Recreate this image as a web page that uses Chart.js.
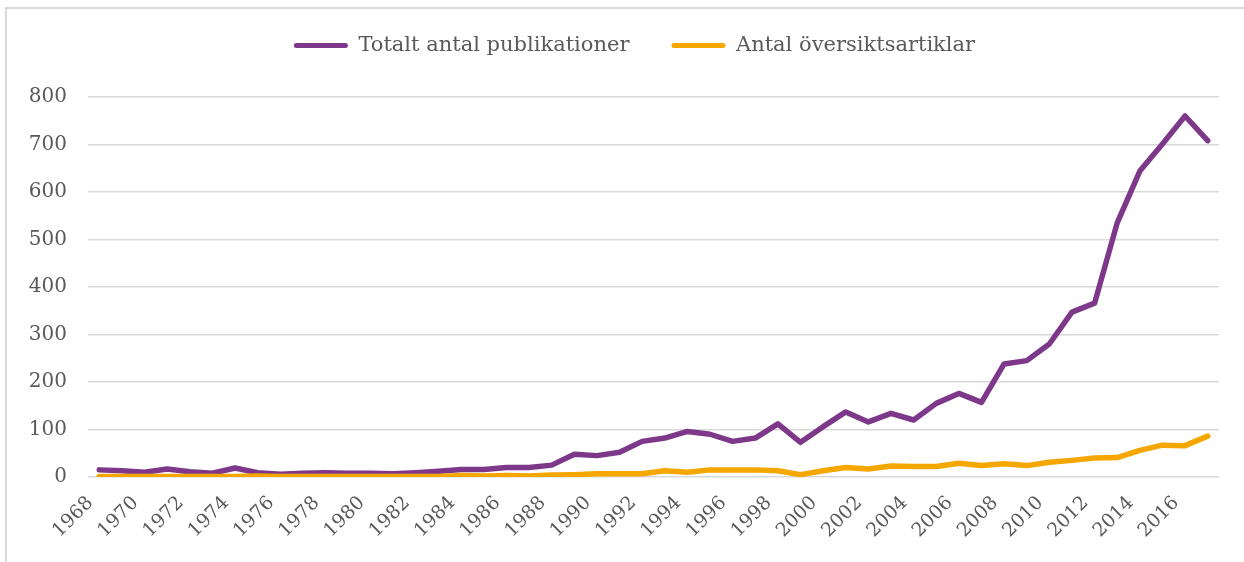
<!DOCTYPE html>
<html>
<head>
<meta charset="utf-8">
<script src="https://cdn.jsdelivr.net/npm/chart.js@4"></script>
<style>
  html, body { margin: 0; padding: 0; background: #ffffff; }
  #frame { position: absolute; left: 5px; top: 7px; width: 1239px; height: 555px;
           border-left: 2px solid #d9d9d9; border-top: 2px solid #d9d9d9; box-sizing: border-box; }
  #wrap { position: absolute; left: 0; top: 0; width: 1244px; height: 562px; }
</style>
</head>
<body>
<div id="frame"></div>
<div id="wrap"><canvas id="c" width="1244" height="562"></canvas></div>
<script>
const years = ['1968','1969','1970','1971','1972','1973','1974','1975','1976','1977',
  '1978','1979','1980','1981','1982','1983','1984','1985','1986','1987',
  '1988','1989','1990','1991','1992','1993','1994','1995','1996','1997',
  '1998','1999','2000','2001','2002','2003','2004','2005','2006','2007',
  '2008','2009','2010','2011','2012','2013','2014','2015','2016','2017'];

const totalPublications = [15,13,10,17,11,8,19,9,6,8,
  9,8,8,7,9,12,16,16,20,20,
  25,48,45,52,75,82,96,90,75,82,
  112,73,106,137,116,134,120,155,176,157,
  238,245,280,347,366,535,644,701,760,708];

const reviewArticles = [1,1,1,1,1,1,1,2,1,1,
  1,1,1,1,1,1,3,2,3,2,
  4,5,7,7,7,13,10,15,15,15,
  13,5,13,20,17,23,22,22,29,24,
  28,24,31,35,40,41,56,67,66,86];

const seriesNames = ['Totalt antal publikationer', 'Antal översiktsartiklar'];
const yTicks = [0,100,200,300,400,500,600,700,800];

const PURPLE = '#7e388a';
const ORANGE = '#f5a700';
const TEXT = '#595959';
const FONT = "'DejaVu Serif', 'Liberation Serif', serif";

const legendFit = {
  id: 'legendFit',
  beforeInit(chart) {
    const orig = chart.legend.fit;
    chart.legend.fit = function () { orig.call(this); this.height = 89; };
  },
  afterLayout(chart) {
    chart.legend.top = -7;
    chart.legend.left += 20;
    chart.legend.right += 20;
  }
};

new Chart(document.getElementById('c'), {
  type: 'line',
  data: {
    labels: years,
    datasets: [
      { label: seriesNames[0], data: totalPublications, borderColor: PURPLE, backgroundColor: PURPLE,
        borderWidth: 5.5, pointRadius: 0, tension: 0, borderCapStyle: 'round', borderJoinStyle: 'round', order: 1 },
      { label: seriesNames[1], data: reviewArticles, borderColor: ORANGE, backgroundColor: ORANGE,
        borderWidth: 5.5, pointRadius: 0, tension: 0, borderCapStyle: 'round', borderJoinStyle: 'round', order: 0 }
    ]
  },
  options: {
    responsive: false,
    animation: false,
    layout: { padding: { top: 8, left: 10, right: 25, bottom: 0 } },
    plugins: {
      tooltip: { enabled: false },
      legend: {
        position: 'top',
        align: 'center',
        labels: {
          boxWidth: 54,
          boxHeight: 5,
          padding: 42,
          color: TEXT,
          useBorderRadius: true,
          borderRadius: 2.5,
          font: { family: FONT, size: 21 },
          sort: (a, b) => a.datasetIndex - b.datasetIndex,
          generateLabels(chart) {
            const items = Chart.defaults.plugins.legend.labels.generateLabels(chart);
            items.forEach(it => { it.lineWidth = 0; it.fillStyle = it.strokeStyle; });
            return items;
          }
        }
      }
    },
    scales: {
      x: {
        offset: true,
        grid: { display: false, drawTicks: false },
        border: { display: false },
        ticks: {
          autoSkip: false,
          minRotation: 45,
          maxRotation: 45,
          padding: 15,
          labelOffset: -9,
          color: TEXT,
          font: { family: FONT, size: 19 },
          callback(value, index) { return index % 2 === 0 ? this.getLabelForValue(value) : ''; }
        },
        afterFit(scale) { scale.height = 85; scale.paddingLeft = 0; scale.paddingRight = 0; }
      },
      y: {
        min: 0,
        max: 800,
        grid: { color: '#d9d9d9', lineWidth: 1.5, drawTicks: false },
        border: { display: false },
        ticks: {
          stepSize: 100,
          padding: 21,
          color: TEXT,
          font: { family: FONT, size: 20 },
          callback(value) { return yTicks.includes(value) ? String(value) : ''; }
        },
        afterFit(scale) { scale.width = 78; }
      }
    }
  },
  plugins: [legendFit]
});
</script>
</body>
</html>
